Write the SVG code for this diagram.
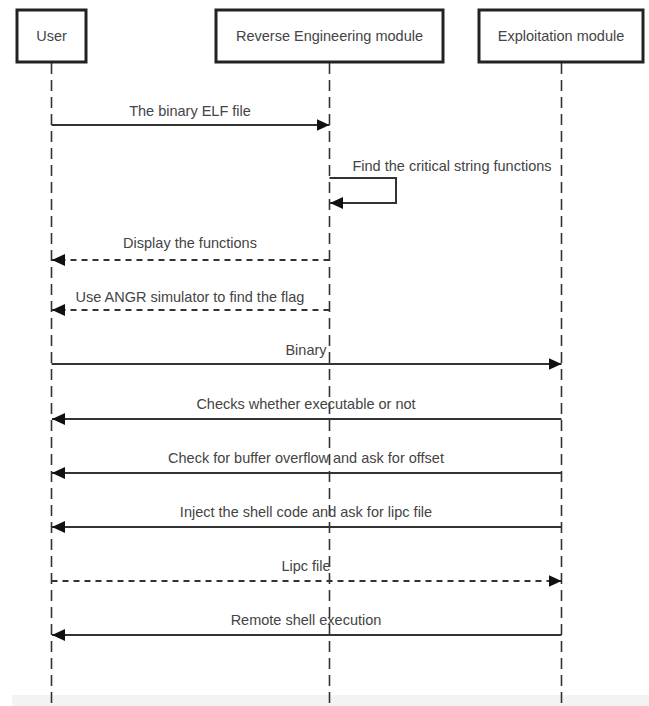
<svg xmlns="http://www.w3.org/2000/svg" width="649" height="706" viewBox="0 0 649 706">
<style>
.box{fill:#fff;stroke:#222;stroke-width:3}
.life{stroke:#333;stroke-width:1.6;stroke-dasharray:11 6;fill:none}
.msg{stroke:#333;stroke-width:2;fill:none}
.ret{stroke:#333;stroke-width:1.8;stroke-dasharray:6 5;fill:none}
.t{font-family:"Liberation Sans",Arial,sans-serif;font-size:14.5px;fill:#444;text-anchor:middle}
.h{font-family:"Liberation Sans",Arial,sans-serif;font-size:14.5px;fill:#444;text-anchor:middle}
</style>
<defs>
<marker id="ah" markerWidth="13" markerHeight="12" refX="13" refY="6" orient="auto" markerUnits="userSpaceOnUse">
<path d="M0,0 L13,6 L0,12 Z" fill="#111"/>
</marker>
</defs>
<rect width="649" height="706" fill="#fff"/>
<rect x="12" y="695" width="637" height="11" fill="#f3f3f3"/>
<g id="lifelines">
<line class="life" x1="51.5" y1="63" x2="51.5" y2="706"/>
<line class="life" x1="329.5" y1="63" x2="329.5" y2="706"/>
<line class="life" x1="561.5" y1="63" x2="561.5" y2="706"/>
</g>
<g id="user"><rect class="box" x="17" y="10" width="69" height="52"/><text class="h" x="51.5" y="41">User</text></g>
<g id="re"><rect class="box" x="216" y="10" width="227" height="52"/><text class="h" x="329.5" y="41">Reverse Engineering module</text></g>
<g id="exploit"><rect class="box" x="479" y="10" width="164" height="52"/><text class="h" x="561" y="41">Exploitation module</text></g>
<g id="connectors">
<line class="msg" x1="51.5" y1="125" x2="329.5" y2="125" marker-end="url(#ah)"/>
<text class="t" x="190" y="116">The binary ELF file</text>
<polyline class="msg" points="329.5,178 396,178 396,203 330,203" marker-end="url(#ah)"/>
<text class="t" x="452" y="171">Find the critical string functions</text>
<line class="ret" x1="329.5" y1="260" x2="52" y2="260" marker-end="url(#ah)"/>
<text class="t" x="190" y="248">Display the functions</text>
<line class="ret" x1="329.5" y1="310" x2="52" y2="310" marker-end="url(#ah)"/>
<text class="t" x="190" y="302">Use ANGR simulator to find the flag</text>
<line class="msg" x1="51.5" y1="364" x2="561.5" y2="364" marker-end="url(#ah)"/>
<text class="t" x="306" y="355">Binary</text>
<line class="msg" x1="561.5" y1="419" x2="52" y2="419" marker-end="url(#ah)"/>
<text class="t" x="306" y="409">Checks whether executable or not</text>
<line class="msg" x1="561.5" y1="473" x2="52" y2="473" marker-end="url(#ah)"/>
<text class="t" x="306" y="463">Check for buffer overflow and ask for offset</text>
<line class="msg" x1="561.5" y1="527" x2="52" y2="527" marker-end="url(#ah)"/>
<text class="t" x="306" y="517">Inject the shell code and ask for lipc file</text>
<line class="ret" x1="51.5" y1="581" x2="561.5" y2="581" marker-end="url(#ah)"/>
<text class="t" x="306" y="571">Lipc file</text>
<line class="msg" x1="561.5" y1="635" x2="52" y2="635" marker-end="url(#ah)"/>
<text class="t" x="306" y="625">Remote shell execution</text>
</g>
</svg>
